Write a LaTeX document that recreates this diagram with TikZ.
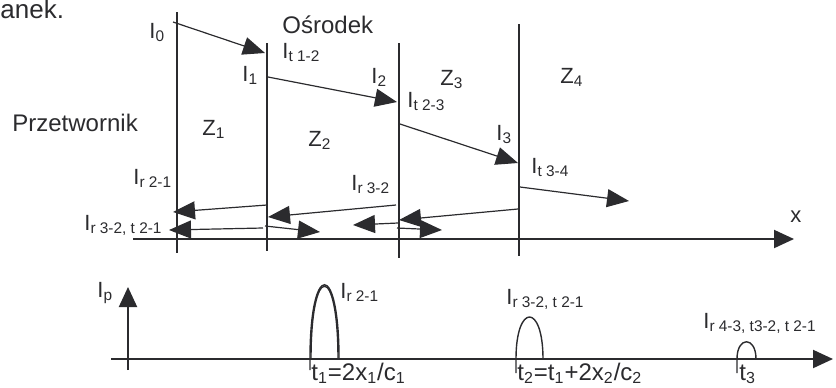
\documentclass[tikz,border=0pt]{standalone}
\usepackage{fontspec}
\setmainfont{Liberation Sans}
\usetikzlibrary{arrows.meta}
\definecolor{ink}{HTML}{2B2B2E}
\tikzset{
  wall/.style={draw=ink, line width=0.6pt},
  ray/.style={draw=ink, line width=0.6pt, -{Triangle[length=11pt, width=9pt]}},
  axisline/.style={draw=ink, line width=1pt, -{Triangle[length=10pt, width=9pt]}},
  pulse/.style={draw=ink, line width=0.7pt},
  lbl/.style={inner sep=0pt, anchor=base west, text=ink, font=\fontsize{11}{13}\selectfont},
  biglbl/.style={inner sep=0pt, anchor=base west, text=ink, font=\fontsize{12}{14}\selectfont}
}

\begin{document}
\begin{tikzpicture}[x=0.5pt, y=-0.5pt]
\useasboundingbox (0,0) rectangle (836,387);
% boundaries between the layers
\draw[wall] (177,12) -- (177,253);
\draw[wall] (267,43) -- (267,251);
\draw[wall] (399,43) -- (399,258);
\draw[wall] (519,24) -- (519,256);
% ends of the rays
\coordinate (i0) at (173,22);   \coordinate (i1) at (265,53);
\coordinate (t12) at (268,77);  \coordinate (i2) at (397,102);
\coordinate (t23) at (400,124); \coordinate (i3) at (518,163);
\coordinate (t34) at (520,187); \coordinate (out) at (629,201);
\coordinate (r21s) at (267,205); \coordinate (r21e) at (173,212);
\coordinate (r32s) at (396,205); \coordinate (r32e) at (268,217);
\coordinate (r43s) at (518,209); \coordinate (r43e) at (399,220);
\coordinate (b1s) at (263,228); \coordinate (b1e) at (169,230);
\coordinate (b2s) at (265,226); \coordinate (b2e) at (320,232);
\coordinate (b3s) at (398,223); \coordinate (b3e) at (353,225);
\coordinate (b4s) at (397,228); \coordinate (b4e) at (442,230);
% transmitted
\draw[ray] (i0) -- (i1);
\draw[ray] (t12) -- (i2);
\draw[ray] (t23) -- (i3);
\draw[ray] (t34) -- (out);
% reflected
\draw[ray] (r21s) -- (r21e);
\draw[ray] (r32s) -- (r32e);
\draw[ray] (r43s) -- (r43e);
\draw[ray] (b1s) -- (b1e);
\draw[ray] (b2s) -- (b2e);
\draw[ray] (b3s) -- (b3e);
\draw[ray] (b4s) -- (b4e);
% x axis
\coordinate (x0) at (133,239); \coordinate (x1) at (794,239);
\draw[axisline] (x0) -- (x1);
\node[lbl] (xlab) at (790,222) {x};
% labels of the upper part
\node[biglbl, font=\fontsize{13}{15}\selectfont] (caption) at (0,18) {anek.};
\node[biglbl] (przet) at (12,131) {Przetwornik};
\node[biglbl] (osrod) at (282,33) {Ośrodek};
\node[lbl] (l0) at (149,38) {I\textsubscript{0}};
\node[lbl] (l1) at (242,81) {I\textsubscript{1}};
\node[lbl] (l2) at (371,83) {I\textsubscript{2}};
\node[lbl] (l3) at (496,140) {I\textsubscript{3}};
\node[lbl] (lt12) at (282,58) {I\textsubscript{t 1-2}};
\node[lbl] (lt23) at (407,107) {I\textsubscript{t 2-3}};
\node[lbl] (lt34) at (531,173) {I\textsubscript{t 3-4}};
\node[lbl] (z1) at (202,135) {Z\textsubscript{1}};
\node[lbl] (z2) at (308,146) {Z\textsubscript{2}};
\node[lbl] (z3) at (440,85) {Z\textsubscript{3}};
\node[lbl] (z4) at (560,83) {Z\textsubscript{4}};
\node[lbl] (lr21) at (133,184) {I\textsubscript{r 2-1}};
\node[lbl] (lr32) at (351,190) {I\textsubscript{r 3-2}};
\node[lbl] (lr3221) at (84,230) {I\textsubscript{r 3-2, t 2-1}};
% time axis
\coordinate (t0) at (111,359); \coordinate (t1) at (833,359);
\coordinate (p0) at (128,370); \coordinate (p1) at (128,287);
\draw[axisline] (t0) -- (t1);
\draw[axisline] (p0) -- (p1);
\node[lbl] (lp) at (97,297) {I\textsubscript{p}};
% echoes
\draw[pulse] (310,370) -- (310,359) .. controls (310,260) and (339,260) .. (339,359);
\draw[pulse] (311,359) .. controls (311,262) and (338,262) .. (338,359);
\draw[pulse] (516,373) -- (516,359) .. controls (516,303) and (543,303) .. (543,359);
\draw[pulse] (737,373) -- (737,359) .. controls (737,336) and (756,336) .. (756,359);
\node[lbl] (e1) at (340,298) {I\textsubscript{r 2-1}};
\node[lbl] (e2) at (506,304) {I\textsubscript{r 3-2, t 2-1}};
\node[lbl] (e3) at (703,328) {I\textsubscript{r 4-3, t3-2, t 2-1}};
\node[biglbl] (tt1) at (311,380) {t\textsubscript{1}=2x\textsubscript{1}/c\textsubscript{1}};
\node[biglbl] (tt2) at (517,380) {t\textsubscript{2}=t\textsubscript{1}+2x\textsubscript{2}/c\textsubscript{2}};
\node[biglbl] (tt3) at (739,380) {t\textsubscript{3}};
\end{tikzpicture}
\end{document}
